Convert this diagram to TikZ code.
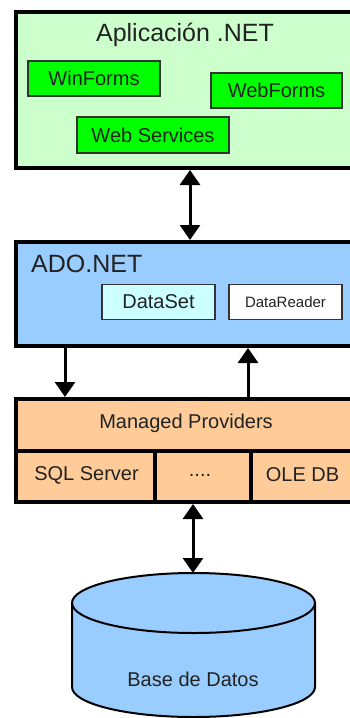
\documentclass[tikz,border=0pt]{standalone}
\usepackage{fontspec}
\setmainfont{Liberation Sans}
\usetikzlibrary{arrows.meta}
\definecolor{appbg}{HTML}{CCFFCC}
\definecolor{wgreen}{HTML}{00FF00}
\definecolor{adoblue}{HTML}{99CCFF}
\definecolor{dsfill}{HTML}{CCFFFF}
\definecolor{provfill}{HTML}{FFCC99}
\definecolor{txt}{HTML}{222222}
\tikzset{
  outerbox/.style={draw=black, line width=4pt, anchor=north west, inner sep=0pt},
  innerbox/.style={draw=black!80, line width=1.6pt, inner sep=0pt, text=txt,
    font=\fontsize{20}{24}\selectfont},
  lbl/.style={text=txt, inner sep=0pt, font=\fontsize{20}{24}\selectfont},
  title/.style={text=txt, inner sep=0pt, font=\fontsize{25}{30}\selectfont},
  conn/.style={line width=3pt, -{Triangle[width=20pt,length=15pt]}},
  dconn/.style={line width=3pt, {Triangle[width=20pt,length=15pt]}-{Triangle[width=20pt,length=15pt]}},
}
\begin{document}
\begin{tikzpicture}[x=1pt,y=-1pt]
\useasboundingbox (0,0) rectangle (350,718);
\clip (0,0) rectangle (350,718);
% Application box
\node[outerbox, fill=appbg, minimum width=350pt, minimum height=156pt] (app) at (14,10) {};
\node[title] (apptitle) at (185,35) {Aplicación .NET};
\node[innerbox, fill=wgreen, minimum width=132pt, minimum height=35pt] (winforms) at (94,78.5) {WinForms};
\node[innerbox, fill=wgreen, minimum width=131pt, minimum height=35pt] (webforms) at (276.5,90.5) {WebForms};
\node[innerbox, fill=wgreen, minimum width=152pt, minimum height=36pt] (websvc) at (153,135) {Web Services};
% ADO.NET box
\node[outerbox, fill=adoblue, minimum width=350pt, minimum height=104pt] (ado) at (14,240) {};
\node[title, anchor=west] (adotitle) at (31,264) {ADO.NET};
\node[innerbox, fill=dsfill, minimum width=113pt, minimum height=35pt] (dataset) at (158.5,301.8) {DataSet};
\node[innerbox, fill=white, minimum width=113pt, minimum height=35pt, font=\fontsize{15}{18}\selectfont] (datareader) at (285.5,301.8) {DataReader};
% Managed providers
\node[outerbox, fill=provfill, minimum width=350pt, minimum height=52pt] (mp) at (14,397) {};
\node[lbl] (mptext) at (186,423) {Managed Providers};
\node[outerbox, fill=provfill, minimum width=139pt, minimum height=51pt] (sql) at (14,449) {};
\node[outerbox, fill=provfill, minimum width=96pt, minimum height=51pt] (dots) at (153,449) {};
\node[outerbox, fill=provfill, minimum width=120pt, minimum height=51pt] (ole) at (249,449) {};
\node[lbl] (sqltext) at (86.5,475) {SQL Server};
\node[lbl] (dotstext) at (200,475) {....};
\node[lbl] (oletext) at (302.5,475) {OLE DB};
% Database cylinder
\filldraw[fill=adoblue, draw=black, line width=2pt]
  (72,603) -- (72,687) arc[start angle=180, end angle=360, x radius=121.5pt, y radius=30pt]
  -- (315,603) arc[start angle=0, end angle=180, x radius=121.5pt, y radius=30pt] -- cycle;
\draw[line width=2pt] (72,603) arc[start angle=180, end angle=360, x radius=121.5pt, y radius=30pt];
\coordinate (dbtop) at (193,573);
\node[lbl] (dbtext) at (193,679) {Base de Datos};
% Connectors
\coordinate (xa) at (190,0);
\coordinate (xd) at (65,0);
\coordinate (xu) at (248,0);
\coordinate (xb) at (193,0);
\draw[dconn] (xa |- app.south) -- (xa |- ado.north);
\draw[conn] (xd |- ado.south) -- (xd |- mp.north);
\draw[conn] (xu |- mp.north) -- (xu |- ado.south);
\draw[dconn] (xb |- sql.south) -- (dbtop);
\end{tikzpicture}
\end{document}
